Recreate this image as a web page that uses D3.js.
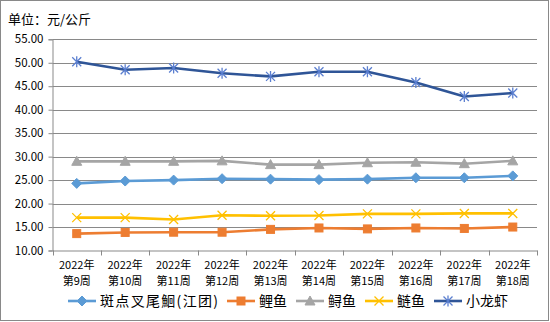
<!DOCTYPE html>
<html><head><meta charset="utf-8">
<script src="https://cdn.jsdelivr.net/npm/d3@7/dist/d3.min.js"></script>
<style>
html,body{margin:0;padding:0;background:#fff;}
text{font-family:"Noto Sans CJK SC","Noto Sans",sans-serif;fill:#000;}
</style></head>
<body>
<svg id="c" width="550" height="322"></svg>
<script>
const yearLabels = ["2022年","2022年","2022年","2022年","2022年","2022年","2022年","2022年","2022年","2022年"];
const weekLabels = ["第9周","第10周","第11周","第12周","第13周","第14周","第15周","第16周","第17周","第18周"];
const seriesNames = ["斑点叉尾鮰(江团)","鲤鱼","鲟鱼","鲢鱼","小龙虾"];
const catfish = [24.3,24.8,25.0,25.3,25.2,25.1,25.2,25.5,25.5,25.9];
const carp = [13.6,13.85,13.9,13.9,14.5,14.8,14.6,14.8,14.7,15.0];
const sturgeon = [29.0,29.0,29.0,29.1,28.3,28.3,28.7,28.8,28.5,29.1];
const silverCarp = [17.0,17.0,16.6,17.5,17.4,17.45,17.8,17.8,17.9,17.9];
const crayfish = [50.2,48.5,48.9,47.75,47.1,48.1,48.1,45.8,42.8,43.55];
const yTicks = [10,15,20,25,30,35,40,45,50,55];
const unitLabel = "单位：元/公斤";

const seriesData = [catfish, carp, sturgeon, silverCarp, crayfish];
const lineColors = ["#5B9BD5","#ED7D31","#A5A5A5","#FFC000","#2F5597"];
const markerColors = ["#5B9BD5","#ED7D31","#A5A5A5","#FFC000","#5B7FD0"];
const markerTypes = ["diamond","square","triangle","x","star"];

const svg = d3.select("#c");
svg.append("rect").attr("x",0).attr("y",0).attr("width",550).attr("height",322).attr("fill","#fff");
svg.append("rect").attr("x",0.5).attr("y",0.5).attr("width",548).attr("height",320)
  .attr("fill","none").attr("stroke","#898989").attr("stroke-width",1);

const L = 52.5, R = 537, T = 39.3, B = 250.5;
const cats = weekLabels.map((d,i)=>i);
const x = d3.scaleBand().domain(cats).range([L,R]);
const y = d3.scaleLinear().domain([10,55]).range([B,T]);

svg.append("text").attr("x",8).attr("y",24).attr("font-size",13).text(unitLabel);

// gridlines
svg.append("g").selectAll("line").data(yTicks.filter(v=>v>10)).join("line")
  .attr("x1",L).attr("x2",R).attr("y1",d=>Math.round(y(d))+0.5).attr("y2",d=>Math.round(y(d))+0.5)
  .attr("stroke","#898989").attr("stroke-width",1);

// y axis
const yAxis = d3.axisLeft(y).tickValues(yTicks).tickFormat(d3.format(".2f")).tickSize(4).tickPadding(5);
const gy = svg.append("g").attr("transform",`translate(${L},0)`).call(yAxis);
gy.select(".domain").attr("stroke","#898989");
gy.selectAll(".tick line").attr("stroke","#898989");
gy.selectAll(".tick text").attr("font-size",11.5).attr("font-family","'Noto Sans CJK SC',sans-serif").attr("fill","#000");

// x axis
const xAxis = d3.axisBottom(x).tickSize(0).tickFormat("");
const gx = svg.append("g").attr("transform",`translate(0,${B})`).call(xAxis);
gx.select(".domain").attr("stroke","#898989");
const bounds = cats.map(i=>x(i)).concat([R]);
svg.append("g").selectAll("line").data(bounds).join("line")
  .attr("x1",d=>Math.round(d)+0.5).attr("x2",d=>Math.round(d)+0.5).attr("y1",B).attr("y2",B+5)
  .attr("stroke","#898989");
svg.append("g").selectAll("text").data(cats).join("text")
  .attr("text-anchor","middle").attr("font-size",11)
  .attr("x",i=>x(i)+x.bandwidth()/2).attr("y",268.5).text(i=>yearLabels[i]);
svg.append("g").selectAll("text").data(cats).join("text")
  .attr("text-anchor","middle").attr("font-size",11)
  .attr("x",i=>x(i)+x.bandwidth()/2).attr("y",284.5).text(i=>weekLabels[i]);

function drawMarker(g, type, cx, cy, color){
  if(type==="diamond"){
    g.append("path").attr("d",`M${cx},${cy-5}L${cx+5},${cy}L${cx},${cy+5}L${cx-5},${cy}Z`).attr("fill",color).attr("stroke",color);
  } else if(type==="square"){
    g.append("rect").attr("x",cx-4).attr("y",cy-4).attr("width",8).attr("height",8).attr("fill",color).attr("stroke",color);
  } else if(type==="triangle"){
    g.append("path").attr("d",`M${cx},${cy-5}L${cx+5},${cy+4}L${cx-5},${cy+4}Z`).attr("fill",color).attr("stroke",color);
  } else if(type==="x"){
    g.append("path").attr("d",`M${cx-4.5},${cy-4.5}L${cx+4.5},${cy+4.5}M${cx-4.5},${cy+4.5}L${cx+4.5},${cy-4.5}`).attr("stroke",color).attr("stroke-width",1.3).attr("fill","none");
  } else if(type==="star"){
    g.append("path").attr("d",`M${cx-4.5},${cy-4.5}L${cx+4.5},${cy+4.5}M${cx-4.5},${cy+4.5}L${cx+4.5},${cy-4.5}M${cx},${cy-5.5}L${cx},${cy+5.5}`).attr("stroke",color).attr("stroke-width",1.3).attr("fill","none");
  }
}

const line = d3.line().x((d,i)=>x(i)+x.bandwidth()/2).y(d=>y(d));
seriesData.forEach((vals,k)=>{
  const g = svg.append("g");
  g.append("path").datum(vals).attr("d",line).attr("fill","none")
    .attr("stroke",lineColors[k]).attr("stroke-width",2.6).attr("stroke-linejoin","round");
  vals.forEach((v,i)=>drawMarker(g, markerTypes[k], x(i)+x.bandwidth()/2, y(v), markerColors[k]));
});

// legend
let lx = 68; const ly = 301;
seriesNames.forEach((name,k)=>{
  const g = svg.append("g");
  g.append("line").attr("x1",lx).attr("x2",lx+28).attr("y1",ly).attr("y2",ly)
    .attr("stroke",lineColors[k]).attr("stroke-width",2.6);
  drawMarker(g, markerTypes[k], lx+14, ly, markerColors[k]);
  const t = g.append("text").attr("x",lx+32).attr("y",ly+5).attr("font-size",14).text(name);
  let w = t.node().getComputedTextLength();
  if(k===0){ w = 118; t.attr("textLength",w).attr("lengthAdjust","spacing"); }
  lx = lx + 32 + w + 9;
});
</script>
</body></html>
